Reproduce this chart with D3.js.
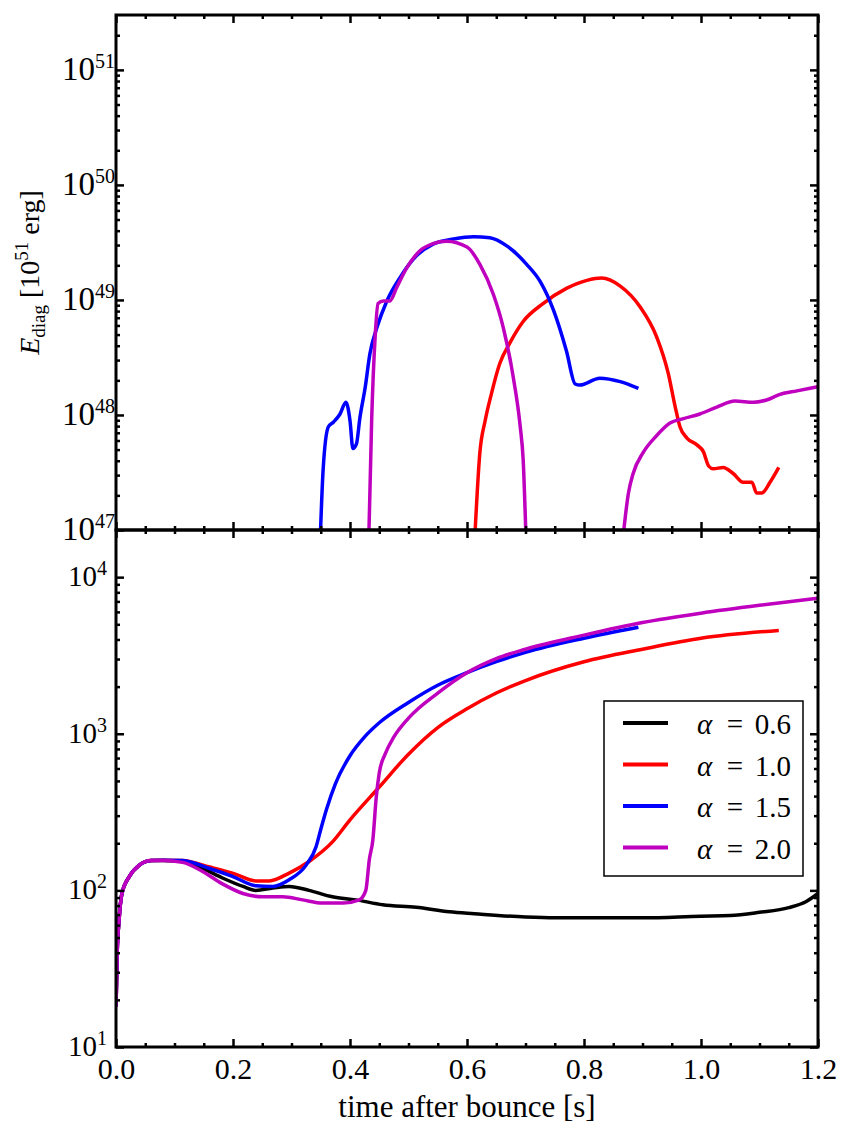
<!DOCTYPE html>
<html>
<head>
<meta charset="utf-8">
<script src="https://cdn.jsdelivr.net/npm/d3@7"></script>
<style>
  body { margin: 0; background: #fff; }
  text { font-family: "Liberation Serif", "DejaVu Serif", serif; fill: #000; }
</style>
</head>
<body>
<div id="chart"></div>
<script>
/**
 * Values
*/
var alphas = ["0.6", "1.0", "1.5", "2.0"];
var colors = ["#000000", "#ff0000", "#0000ff", "#bf00bf"];
var xTicks = [0, 0.2, 0.4, 0.6, 0.8, 1.0, 1.2];

// diagnostic energy [erg], top panel (alpha = 0.6 never rises above 1e47)
var ediag10 = [[0.613, 8e46], [0.622, 4.7e47], [0.631, 8.9e47], [0.642, 1.55e48], [0.656, 2.8e48],
  [0.674, 4.3e48], [0.696, 6.5e48], [0.730, 9.3e48], [0.770, 1.26e49], [0.805, 1.48e49],
  [0.830, 1.55e49], [0.862, 1.32e49], [0.896, 8.7e48], [0.924, 4.8e48], [0.944, 2.3e48],
  [0.956, 1.17e48], [0.964, 7.9e47], [0.976, 6.3e47], [0.993, 5.5e47], [1.004, 4.8e47],
  [1.013, 3.6e47], [1.021, 3.4e47], [1.038, 3.5e47], [1.055, 3.1e47], [1.072, 2.6e47],
  [1.087, 2.6e47], [1.095, 2.1e47], [1.104, 2.1e47], [1.118, 2.6e47], [1.133, 3.5e47]];
var ediag15 = [[0.349, 8e46], [0.354, 3.3e47], [0.363, 7.9e47], [0.372, 8.7e47], [0.383, 1.02e48],
  [0.393, 1.29e48], [0.400, 8.9e47], [0.405, 5.1e47], [0.411, 5.6e47], [0.417, 9.5e47],
  [0.426, 1.74e48], [0.434, 3.4e48], [0.446, 5.75e48], [0.463, 9.8e48], [0.486, 1.58e49],
  [0.514, 2.43e49], [0.542, 3.06e49], [0.577, 3.39e49], [0.611, 3.55e49], [0.639, 3.47e49],
  [0.668, 2.95e49], [0.702, 2.04e49], [0.725, 1.45e49], [0.748, 8.1e48], [0.770, 3.6e48],
  [0.785, 1.86e48], [0.793, 1.82e48], [0.827, 2.09e48], [0.862, 1.95e48], [0.893, 1.70e48]];
var ediag20 = [[0.432, 8e46], [0.437, 8.9e47], [0.443, 4.8e48], [0.448, 9.3e48], [0.457, 9.8e48],
  [0.468, 9.8e48], [0.480, 1.29e49], [0.497, 1.9e49], [0.520, 2.69e49], [0.542, 3.09e49],
  [0.565, 3.24e49], [0.600, 2.88e49], [0.622, 2.04e49], [0.645, 1.12e49], [0.662, 5.75e48],
  [0.679, 2.14e48], [0.691, 7.9e47], [0.696, 4.1e47], [0.701, 8e46], null,
  [0.866, 8e46], [0.876, 2.1e47], [0.884, 3.1e47], [0.901, 4.7e47], [0.924, 6.6e47],
  [0.947, 8.5e47], [0.970, 9.3e47], [0.998, 1.02e48], [1.027, 1.17e48], [1.058, 1.32e48],
  [1.090, 1.29e48], [1.112, 1.35e48], [1.135, 1.51e48], [1.164, 1.62e48], [1.195, 1.74e48],
  [1.200, 1.76e48]];

// bottom panel
var rsh06 = [[0, 18], [0.002, 40], [0.005, 63], [0.01, 95], [0.023, 123], [0.04, 145], [0.06, 155],
  [0.08, 155], [0.114, 153], [0.148, 138], [0.182, 120], [0.217, 106], [0.239, 100], [0.268, 103.5],
  [0.296, 106], [0.33, 100], [0.37, 91], [0.41, 87], [0.456, 81], [0.513, 78], [0.57, 73],
  [0.6125, 71], [0.7, 67.6], [0.75, 66.8], [0.8, 66.8], [0.9, 66.8], [1.0, 68.4], [1.05, 69],
  [1.1, 72.4], [1.15, 77.6], [1.18, 85], [1.2, 95.5]];
var rsh10 = [[0, 18], [0.002, 40], [0.005, 63], [0.01, 95], [0.023, 123], [0.04, 145], [0.06, 155],
  [0.08, 156], [0.114, 155], [0.16, 141], [0.199, 129], [0.239, 115], [0.262, 115], [0.296, 129],
  [0.33, 153], [0.37, 204], [0.40, 282], [0.45, 457], [0.5, 741], [0.55, 1096], [0.6, 1445],
  [0.65, 1820], [0.7, 2188], [0.8, 2884], [0.9, 3467], [1.0, 4074], [1.133, 4571]];
var rsh15 = [[0, 18], [0.002, 40], [0.005, 63], [0.01, 95], [0.023, 123], [0.04, 145], [0.06, 155],
  [0.08, 156], [0.114, 155], [0.16, 138], [0.199, 123], [0.239, 107], [0.268, 106], [0.296, 117],
  [0.325, 145], [0.342, 190], [0.35, 245], [0.36, 331], [0.375, 479], [0.4, 724], [0.425, 955],
  [0.45, 1175], [0.5, 1585], [0.55, 2042], [0.6, 2455], [0.65, 2884], [0.7, 3311], [0.8, 4074],
  [0.893, 4786]];
var rsh20 = [[0, 18], [0.002, 40], [0.005, 63], [0.01, 95], [0.023, 123], [0.04, 145], [0.06, 155],
  [0.08, 155], [0.114, 151], [0.148, 132], [0.182, 110], [0.217, 95.5], [0.251, 91], [0.285, 91],
  [0.319, 87], [0.353, 83], [0.388, 83], [0.416, 87], [0.427, 100], [0.433, 157], [0.439, 209],
  [0.445, 398], [0.45, 562], [0.46, 741], [0.475, 955], [0.5, 1259], [0.55, 1820], [0.6, 2455],
  [0.65, 3020], [0.7, 3467], [0.8, 4266], [0.9, 5129], [1.0, 5888], [1.1, 6607], [1.2, 7328]];

var topSeries = [null, ediag10, ediag15, ediag20];
var botSeries = [rsh06, rsh10, rsh15, rsh20];

/**
 * Layout (note: "top" is a reserved window property, so use other names)
*/
var width = 851, height = 1137;
var plotL = 116, plotR = 818, plotT = 15, plotS = 530, plotB = 1047;

var svg = d3.select("#chart").append("svg")
  .attr("width", width)
  .attr("height", height);

var x = d3.scaleLinear().domain([0, 1.2]).range([plotL, plotR]);
var yTop = d3.scaleLog().domain([1e47, 3e51]).range([plotS, plotT]);
var yBot = d3.scaleLog().domain([10, 2e4]).range([plotB, plotS]);

/**
 * Minor tick values for a log axis (2..9 of each decade, inside the domain)
*/
function logMinors(scale) {
  var d = scale.domain(), out = [];
  for (var e = Math.floor(Math.log10(d[0])); e <= Math.ceil(Math.log10(d[1])); e++) {
    for (var m = 2; m <= 9; m++) {
      var v = m * Math.pow(10, e);
      if (v > d[0] && v < d[1]) out.push(v);
    }
  }
  return out;
}

function logMajors(scale) {
  var d = scale.domain(), out = [];
  for (var e = Math.ceil(Math.log10(d[0])); e <= Math.floor(Math.log10(d[1])); e++) out.push(Math.pow(10, e));
  return out;
}

var xMinors = d3.range(0.05, 1.2, 0.05).filter(v => Math.abs(v / 0.2 - Math.round(v / 0.2)) > 1e-6);

function styleAxis(g) {
  g.select(".domain").remove();
  g.selectAll(".tick line").attr("stroke", "#000").attr("stroke-width", 2.5);
}

/**
 * Draw one panel's inward ticks on all four sides
 * @param lab {pad, size, sup, rise} styling of the 10^n labels
*/
function drawPanel(y, y0, y1, lab, showX) {
  var g = svg.append("g");
  var majors = logMajors(y), minors = logMinors(y);

  // left
  g.append("g").attr("transform", "translate(" + plotL + ",0)")
    .call(d3.axisLeft(y).tickValues(majors).tickSize(-8).tickSizeOuter(0).tickPadding(lab.pad).tickFormat(""))
    .call(styleAxis)
    .call(function(a) {
      a.selectAll(".tick text").each(function(d) {
        var t = d3.select(this).attr("font-size", lab.size).attr("fill", "#000").attr("dy", "0.29em");
        t.append("tspan").text("10");
        t.append("tspan").attr("dy", -lab.rise).attr("font-size", lab.sup).text(Math.round(Math.log10(d)));
      });
    });
  g.append("g").attr("transform", "translate(" + plotL + ",0)")
    .call(d3.axisLeft(y).tickValues(minors).tickSize(-4).tickSizeOuter(0).tickFormat(""))
    .call(styleAxis);
  // right
  g.append("g").attr("transform", "translate(" + plotR + ",0)")
    .call(d3.axisRight(y).tickValues(majors).tickSize(-8).tickSizeOuter(0).tickFormat(""))
    .call(styleAxis);
  g.append("g").attr("transform", "translate(" + plotR + ",0)")
    .call(d3.axisRight(y).tickValues(minors).tickSize(-4).tickSizeOuter(0).tickFormat(""))
    .call(styleAxis);
  // top edge
  g.append("g").attr("transform", "translate(0," + y1 + ")")
    .call(d3.axisTop(x).tickValues(xTicks).tickSize(-8).tickSizeOuter(0).tickFormat(""))
    .call(styleAxis);
  g.append("g").attr("transform", "translate(0," + y1 + ")")
    .call(d3.axisTop(x).tickValues(xMinors).tickSize(-4).tickSizeOuter(0).tickFormat(""))
    .call(styleAxis);
  // bottom edge
  var bx = g.append("g").attr("transform", "translate(0," + y0 + ")")
    .call(d3.axisBottom(x).tickValues(xTicks).tickSize(-8).tickSizeOuter(0).tickPadding(11)
      .tickFormat(showX ? d3.format(".1f") : ""))
    .call(styleAxis);
  bx.selectAll(".tick text").attr("font-size", 30).attr("fill", "#000");
  g.append("g").attr("transform", "translate(0," + y0 + ")")
    .call(d3.axisBottom(x).tickValues(xMinors).tickSize(-4).tickSizeOuter(0).tickFormat(""))
    .call(styleAxis);
  return g;
}

/**
 * Curves, clipped to each panel
*/
function drawCurves(series, y, y0, y1, id) {
  svg.append("clipPath").attr("id", id)
    .append("rect").attr("x", plotL).attr("y", y1).attr("width", plotR - plotL).attr("height", y0 - y1);
  var line = d3.line()
    .defined(d => d !== null)
    .x(d => x(d[0]))
    .y(d => y(d[1]))
    .curve(d3.curveMonotoneX);
  var g = svg.append("g").attr("clip-path", "url(#" + id + ")");
  series.forEach(function(s, i) {
    if (s == null) return;
    g.append("path")
      .attr("d", line(s))
      .attr("fill", "none")
      .attr("stroke", colors[i])
      .attr("stroke-width", 3.5)
      .attr("stroke-linejoin", "round");
  });
}

drawCurves(topSeries, yTop, plotS, plotT, "clipTop");
drawCurves(botSeries, yBot, plotB, plotS, "clipBot");
drawPanel(yTop, plotS, plotT, {pad: 1, size: 33, sup: 20, rise: 12}, false);
drawPanel(yBot, plotB, plotS, {pad: 9, size: 29, sup: 20, rise: 11}, true);

// frames
[[plotT, plotS], [plotS, plotB]].forEach(function(p) {
  svg.append("rect")
    .attr("x", plotL).attr("y", p[0])
    .attr("width", plotR - plotL).attr("height", p[1] - p[0])
    .attr("fill", "none").attr("stroke", "#000").attr("stroke-width", 3);
});

// axis titles
svg.append("text")
  .attr("x", (plotL + plotR) / 2).attr("y", 1117)
  .attr("text-anchor", "middle").attr("font-size", 31)
  .text("time after bounce [s]");

var yl = svg.append("text")
  .attr("transform", "translate(39," + (plotT + plotS) / 2 + ") rotate(-90)")
  .attr("text-anchor", "middle").attr("font-size", 28);
yl.append("tspan").attr("font-style", "italic").text("E");
yl.append("tspan").attr("font-size", 19).attr("dy", 6).text("diag");
yl.append("tspan").attr("dy", -6).text(" [10");
yl.append("tspan").attr("font-size", 19).attr("dy", -11).text("51");
yl.append("tspan").attr("dy", 11).text(" erg]");

/**
 * Legend
*/
var legend = svg.append("g");
legend.append("rect")
  .attr("x", 604).attr("y", 701).attr("width", 199).attr("height", 175)
  .attr("fill", "#fff").attr("stroke", "#000").attr("stroke-width", 1.5);
alphas.forEach(function(a, i) {
  var ly = 723 + i * 41.5;
  legend.append("line")
    .attr("x1", 623).attr("x2", 668).attr("y1", ly).attr("y2", ly)
    .attr("stroke", colors[i]).attr("stroke-width", 4);
  legend.append("text").attr("x", 697).attr("y", ly + 11).attr("font-size", 29)
    .attr("font-style", "italic").text("α");
  legend.append("text").attr("x", 735).attr("y", ly + 11).attr("font-size", 29)
    .attr("text-anchor", "middle").text("=");
  legend.append("text").attr("x", 791).attr("y", ly + 11).attr("font-size", 29)
    .attr("text-anchor", "end").text(a);
});
</script>
</body>
</html>
